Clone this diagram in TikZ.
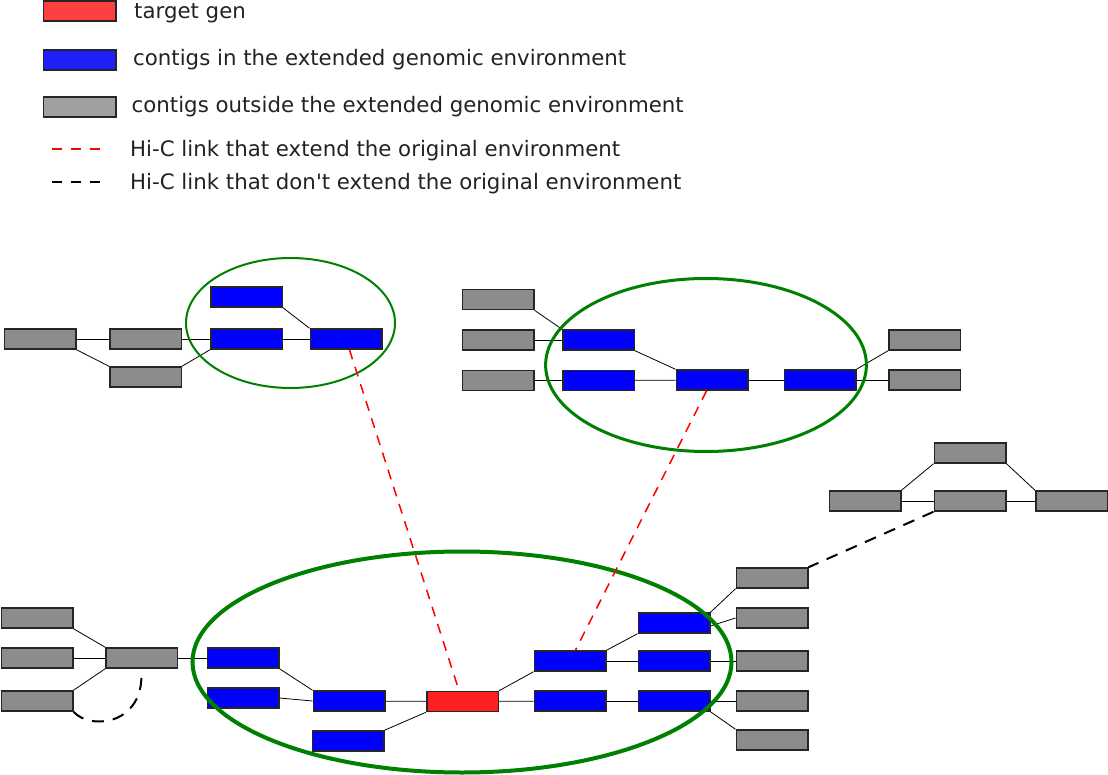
\documentclass[tikz,border=0pt]{standalone}
\usepackage{fontspec}
\setmainfont{DejaVu Sans}
\usetikzlibrary{shapes.geometric}
\definecolor{cgray}{HTML}{8C8C8C}
\definecolor{cblue}{HTML}{0000FF}
\definecolor{cred}{HTML}{FF2020}
\definecolor{lgray}{HTML}{A0A0A0}
\definecolor{lblue}{HTML}{2020FF}
\definecolor{lred}{HTML}{FF4040}
\definecolor{envgreen}{HTML}{008000}
\definecolor{txt}{HTML}{222222}
\tikzset{
  contig/.style={rectangle, inner sep=0pt, minimum width=71.5pt, minimum height=20pt, draw=black!85, line width=1.5pt},
  grayc/.style={contig, fill=cgray},
  bluec/.style={contig, fill=cblue},
  redc/.style={contig, fill=cred},
  link/.style={black, line width=0.8pt},
  env/.style={ellipse, inner sep=0pt, draw=envgreen},
  hicred/.style={red, line width=1.5pt, dash pattern=on 10pt off 8pt},
  hicblack/.style={black, line width=2pt, dash pattern=on 12pt off 9pt},
  legtext/.style={anchor=base west, inner sep=0pt, text=txt, font=\fontsize{21.3}{25}\selectfont},
}
\begin{document}
\begin{tikzpicture}[x=1pt, y=-1pt]
\useasboundingbox (0,0) rectangle (1108,775);
% legend
\node[contig, fill=lred, minimum width=72.5pt] (lr) at (79.7,11) {};
\node[contig, fill=lblue, minimum width=72.5pt] (lb) at (79.7,60) {};
\node[contig, fill=lgray, minimum width=72.5pt] (lg) at (79.7,107) {};
\coordinate (lrd1) at (52,149); \coordinate (lrd2) at (101,149);
\coordinate (lbd1) at (52,182.3); \coordinate (lbd2) at (101,182.3);
\draw[red, line width=1.5pt, dash pattern=on 10pt off 9pt] (lrd1) -- (lrd2);
\draw[black, line width=1.7pt, dash pattern=on 10pt off 9pt] (lbd1) -- (lbd2);
\node[legtext] (t1) at (134,19) {target gen};
\node[legtext] (t2) at (133,65.5) {contigs in the extended genomic environment};
\node[legtext] (t3) at (131.5,112.5) {contigs outside the extended genomic environment};
\node[legtext] (t4) at (130,157) {Hi-C link that extend the original environment};
\node[legtext] (t5) at (130,190) {Hi-C link that don\textquotesingle t extend the original environment};

% top-left cluster
\node[grayc] (A) at (40,339) {};
\node[grayc] (B) at (145.5,339) {};
\node[grayc] (C) at (145.5,377) {};
\node[bluec] (D) at (246.5,297) {};
\node[bluec] (E) at (246.5,339) {};
\node[bluec] (F) at (346,339) {};
% top-middle cluster
\node[grayc] (G1) at (498,299.5) {};
\node[grayc] (G2) at (498,340) {};
\node[grayc] (G3) at (498,380.5) {};
\node[bluec] (H1) at (598.5,340) {};
\node[bluec] (H2) at (598.5,380.5) {};
\node[bluec] (H3) at (712,380) {};
\node[bluec] (H4) at (820,380) {};
\node[grayc] (G4) at (924.5,340) {};
\node[grayc] (G5) at (924.5,380) {};
% top-right cluster
\node[grayc] (R1) at (970,453) {};
\node[grayc] (R2) at (865,501) {};
\node[grayc] (R3) at (970,501) {};
\node[grayc] (R4) at (1071.5,501) {};
% bottom cluster
\node[grayc] (L1) at (37,618) {};
\node[grayc] (L2) at (37,658) {};
\node[grayc] (L3) at (37,701) {};
\node[grayc] (M) at (141.7,658) {};
\node[bluec] (P1) at (243,658) {};
\node[bluec] (P2) at (243,698) {};
\node[bluec] (P3) at (349,701) {};
\node[bluec] (P4) at (348,741) {};
\node[redc] (T) at (462.5,701.5) {};
\node[bluec] (B4) at (570,661) {};
\node[bluec] (B5) at (570,701) {};
\node[bluec] (B1) at (674,623) {};
\node[bluec] (B2) at (674,661) {};
\node[bluec] (B3) at (674,701) {};
\node[grayc] (S1) at (772,578) {};
\node[grayc] (S2) at (772,618) {};
\node[grayc] (S3) at (772,661) {};
\node[grayc] (S4) at (772,701) {};
\node[grayc] (S5) at (772,740) {};

% links
\draw[link] (A) -- (B);
\draw[link] (A.south east) -- (C.north west);
\draw[link] (B) -- (E);
\draw[link] (C.north east) -- (E.south west);
\draw[link] (E) -- (F);
\draw[link] (D.south east) -- (F.north west);
\draw[link] (G1.south east) -- (H1.north west);
\draw[link] (G2) -- (H1);
\draw[link] (G3) -- (H2);
\draw[link] (H1.south east) -- (H3.north west);
\draw[link] (H2) -- (H3);
\draw[link] (H3) -- (H4);
\draw[link] (H4.north east) -- (G4.south west);
\draw[link] (H4) -- (G5);
\draw[link] (R2.north east) -- (R1.south west);
\draw[link] (R1.south east) -- (R4.north west);
\draw[link] (R2) -- (R3);
\draw[link] (R3) -- (R4);
\draw[link] (L1.south east) -- (M.north west);
\draw[link] (L2) -- (M);
\draw[link] (L3.north east) -- (M.south west);
\draw[link] (M) -- (P1);
\draw[link] (P1.south east) -- (P3.north west);
\draw[link] (P2.east) -- (P3.west);
\draw[link] (P3) -- (T);
\draw[link] (P4.north east) -- (T.south west);
\draw[link] (T.north east) -- (B4.south west);
\draw[link] (T) -- (B5);
\draw[link] (B4.north east) -- (B1.south west);
\draw[link] (B4) -- (B2);
\draw[link] (B5) -- (B3);
\draw[link] (B1.north east) -- (S1.south west);
\draw[link] ([yshift=-3pt]B1.east) -- (S2.west);
\draw[link] (B2) -- (S3);
\draw[link] (B3) -- (S4);
\draw[link] (B3.south east) -- (S5.north west);

% environments
\node[env, line width=2pt, minimum width=209pt, minimum height=130pt] (env1) at (290.5,323) {};
\node[env, line width=3pt, minimum width=320.8pt, minimum height=173pt] (env2) at (706,365) {};
\node[env, line width=4pt, minimum width=539pt, minimum height=221pt] (env3) at (462,662) {};

% Hi-C links
\draw[hicred] (F) -- (T);
\draw[hicred] (H3) -- (B4);
\draw[hicblack] (R3.south west) -- (S1.north east);
\draw[hicblack, shorten >=9pt] (L3.south east) .. controls (90,730) and (140,725) .. (M.south);
\end{tikzpicture}
\end{document}
